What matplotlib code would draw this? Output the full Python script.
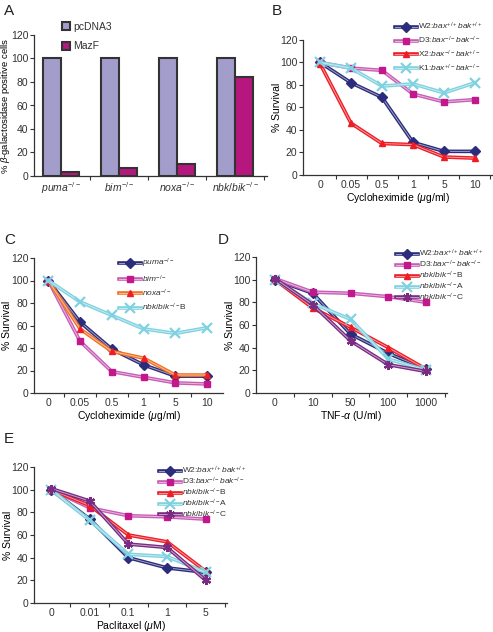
import numpy as np
import matplotlib
matplotlib.use('Agg')
import matplotlib.pyplot as plt
import matplotlib.patheffects as pe
import matplotlib.transforms as mtransforms
from matplotlib.colors import to_rgb

plt.rcParams['font.family'] = ['Liberation Sans', 'DejaVu Sans']
plt.rcParams['mathtext.fontset'] = 'custom'
plt.rcParams['mathtext.rm'] = 'Liberation Sans'
plt.rcParams['mathtext.it'] = 'Liberation Sans:italic'
plt.rcParams['axes.edgecolor'] = '#333333'
plt.rcParams['xtick.color'] = '#333333'
plt.rcParams['ytick.color'] = '#333333'
plt.rcParams['text.color'] = '#333333'

# ---- data ----
# panel A
a_groups = [r'$\mathit{puma}^{-/-}$', r'$\mathit{bim}^{-/-}$', r'$\mathit{noxa}^{-/-}$', r'$\mathit{nbk/bik}^{-/-}$']
a_pcdna3 = [100, 100, 100, 100]
a_mazf = [3, 7, 10, 84]

# panel B
b_x = ['0', '0.05', '0.5', '1', '5', '10']
b_w2 = [100, 82, 69, 29, 21, 21]
b_d3 = [100, 95, 93, 72, 65, 67]
b_x2 = [99, 46, 28, 27, 16, 15]
b_k1 = [100, 95, 79, 81, 73, 82]

# panel C
c_x = ['0', '0.05', '0.5', '1', '5', '10']
c_puma = [100, 63, 39, 25, 15, 15]
c_bim = [100, 46, 19, 14, 9, 8]
c_noxa = [100, 57, 37, 31, 16, 16]
c_nbkB = [100, 81, 69, 57, 53, 58]

# panel D
d_x = ['0', '10', '50', '100', '1000']
d_w2 = [100, 88, 52, 35, 21]
d_d3 = [101, 89, 88, 85, 80]
d_nbkB = [100, 75, 58, 40, 21]
d_nbkA = [100, 79, 65, 30, 20]
d_nbkC = [101, 78, 46, 25, 19]

# panel E
e_x = ['0', '0.01', '0.1', '1', '5']
e_w2 = [100, 74, 40, 31, 27]
e_d3 = [100, 84, 77, 76, 74]
e_nbkB = [100, 86, 60, 54, 28]
e_nbkA = [100, 73, 43, 41, 27]
e_nbkC = [101, 90, 52, 49, 20]

NAVY = '#2B2C7C'
MAG_L = '#C85DB6'
MAG_M = '#C2188C'
RED = '#EE1C25'
CYAN = '#80D2E0'
PURP = '#7A2B82'
ORNG = '#F36F21'

W, H = 493, 632
fig = plt.figure(figsize=(W / 100, H / 100), dpi=100)


def px_axes(left, right, top, bottom):
    return fig.add_axes([left / W, 1 - bottom / H, (right - left) / W, (bottom - top) / H])


def lighten(c, f=0.55):
    r = np.array(to_rgb(c))
    return tuple(r + (1 - r) * f)


def style_axes(ax, n, xlim, xlabels, ylab_x, xlabel=None, ylabel='% Survival', ylab_size=7.5):
    for s in ['top', 'right']:
        ax.spines[s].set_visible(False)
    for s in ['left', 'bottom']:
        ax.spines[s].set_linewidth(0.9)
    ax.set_ylim(0, 120)
    ax.set_yticks(range(0, 121, 20))
    ax.set_xlim(*xlim)
    ax.set_xticks(range(n))
    ax.set_xticklabels(xlabels)
    ax.set_xticks(np.arange(0.5, xlim[1], 1.0), minor=True)
    ax.tick_params(axis='x', which='major', length=0, pad=3.5, labelsize=7.5)
    ax.tick_params(axis='x', which='minor', length=3, direction='out', width=0.8)
    ax.tick_params(axis='y', length=3, direction='out', width=0.8, labelsize=7.5, pad=1)
    if xlabel:
        ax.set_xlabel(xlabel, fontsize=7.5, labelpad=0.5)
    ax.set_ylabel(ylabel, fontsize=ylab_size)
    trans = mtransforms.blended_transform_factory(fig.transFigure, ax.transAxes)
    ax.yaxis.set_label_coords(ylab_x / W, 0.5, transform=trans)


def series(ax, y, color, marker, label, mcolor=None, ms=5):
    mcolor = mcolor or color
    x = np.arange(len(y))
    ln, = ax.plot(x, y, color=color, lw=2.6, solid_joinstyle='miter', label=label,
                  path_effects=[pe.Stroke(linewidth=2.6, foreground=color),
                                pe.Stroke(linewidth=0.7, foreground=lighten(color))])
    if marker in ('x', (6, 2, 0)):
        mk, = ax.plot(x, y, ls='none', marker=marker, ms=ms + 1.5, mew=1.6,
                      color=mcolor, mec=mcolor)
    else:
        mk, = ax.plot(x, y, ls='none', marker=marker, ms=ms, color=mcolor, mec=mcolor)
    return (ln, mk)


def panel_legend(ax, handles, labels, x, y, spacing):
    ax.legend(handles, labels, loc='upper left', bbox_to_anchor=(x / W, 1 - y / H),
              bbox_transform=fig.transFigure, frameon=False, fontsize=6,
              handlelength=2.6, handletextpad=0.2, labelspacing=spacing,
              borderpad=0, borderaxespad=0)


# ---- A ----
axA = px_axes(34, 267, 35, 176)
xa = np.arange(len(a_groups))
b1 = axA.bar(xa - 0.155, a_pcdna3, width=0.31, color='#A39DCC', edgecolor='#333333', lw=1.5, label='pcDNA3')
b2 = axA.bar(xa + 0.155, a_mazf, width=0.31, color='#B5177F', edgecolor='#333333', lw=1.5, label='MazF')
style_axes(axA, 4, (-0.47, 3.55), a_groups, 12.5,
           ylabel=r'% $\beta$-galactosidase positive cells', ylab_size=6.8)
axA.tick_params(axis='x', which='major', pad=3)
axA.legend(loc='upper left', bbox_to_anchor=(62 / W, 1 - 22 / H), bbox_transform=fig.transFigure,
           frameon=False, fontsize=7.5, handlelength=0.8, handleheight=0.8, handletextpad=0.3,
           labelspacing=0.9, borderpad=0, borderaxespad=0)

# ---- B ----
axB = px_axes(303, 492, 40, 175)
style_axes(axB, 6, (-0.55, 5.55), b_x, 282, xlabel=r'Cycloheximide ($\mu$g/ml)')
hB = [series(axB, b_w2, NAVY, 'D', 'W2'),
      series(axB, b_d3, MAG_L, 's', 'D3', MAG_M),
      series(axB, b_x2, RED, '^', 'X2'),
      series(axB, b_k1, CYAN, 'x', 'K1')]
panel_legend(axB, hB, [r'W2:$\mathit{bax}^{+/+}\mathit{bak}^{+/+}$',
                       r'D3:$\mathit{bax}^{-/-}\mathit{bak}^{-/-}$',
                       r'X2:$\mathit{bax}^{-/-}\mathit{bak}^{+/-}$',
                       r'K1:$\mathit{bax}^{+/-}\mathit{bak}^{-/-}$'], 395, 21, 0.3)

# ---- C ----
axC = px_axes(34, 223, 258, 393)
style_axes(axC, 6, (-0.45, 5.5), c_x, 12, xlabel=r'Cycloheximide ($\mu$g/ml)')
hC = [series(axC, c_puma, NAVY, 'D', 'puma'),
      series(axC, c_bim, MAG_L, 's', 'bim', MAG_M),
      series(axC, c_noxa, ORNG, '^', 'noxa', RED),
      series(axC, c_nbkB, CYAN, 'x', 'nbkB')]
panel_legend(axC, hC, [r'$\mathit{puma}^{-/-}$', r'$\mathit{bim}^{-/-}$',
                       r'$\mathit{noxa}^{-/-}$', r'$\mathit{nbk/bik}^{-/-}$B'], 119, 257, 0.35)

# ---- D ----
axD = px_axes(256, 447, 257, 393)
style_axes(axD, 5, (-0.5, 4.55), d_x, 235, xlabel=r'TNF-$\alpha$ (U/ml)')
hD = [series(axD, d_w2, NAVY, 'D', 'W2'),
      series(axD, d_d3, MAG_L, 's', 'D3', MAG_M),
      series(axD, d_nbkB, RED, '^', 'B'),
      series(axD, d_nbkA, CYAN, 'x', 'A'),
      series(axD, d_nbkC, PURP, (6, 2, 0), 'C')]
lab5 = [r'W2:$\mathit{bax}^{+/+}\mathit{bak}^{+/+}$',
        r'D3:$\mathit{bax}^{-/-}\mathit{bak}^{-/-}$',
        r'$\mathit{nbk/bik}^{-/-}$B', r'$\mathit{nbk/bik}^{-/-}$A', r'$\mathit{nbk/bik}^{-/-}$C']
panel_legend(axD, hD, lab5, 396, 248, -0.05)

# ---- E ----
axE = px_axes(34, 227, 467, 603)
style_axes(axE, 5, (-0.44, 4.55), e_x, 13, xlabel=r'Paclitaxel ($\mu$M)')
hE = [series(axE, e_w2, NAVY, 'D', 'W2'),
      series(axE, e_d3, MAG_L, 's', 'D3', MAG_M),
      series(axE, e_nbkB, RED, '^', 'B'),
      series(axE, e_nbkA, CYAN, 'x', 'A'),
      series(axE, e_nbkC, PURP, (6, 2, 0), 'C')]
panel_legend(axE, hE, lab5, 159, 465, -0.05)

# panel letters
for letter, x, y in [('A', 4, 4), ('B', 272, 4), ('C', 4, 233), ('D', 218, 233), ('E', 4, 432)]:
    fig.text(x / W, 1 - y / H, letter, fontsize=11, va='top', ha='left', color='#222222')

fig.savefig('out.png', dpi=100)
